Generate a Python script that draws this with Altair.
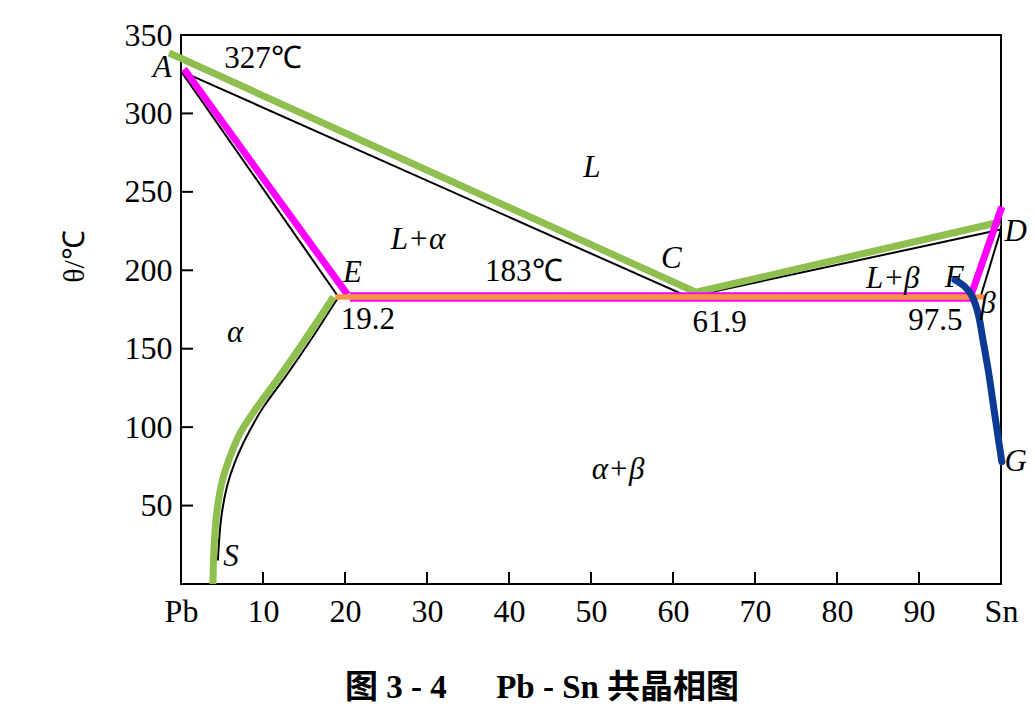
import altair as alt
import pandas as pd

# ---------------- data ----------------
x_tick_values = [0, 10, 20, 30, 40, 50, 60, 70, 80, 90, 100]
y_tick_values = [50, 100, 150, 200, 250, 300, 350]
inner_x_ticks = [10, 20, 30, 40, 50, 60, 70, 80, 90]
inner_y_ticks = [50, 100, 150, 200, 250, 300]

# original black diagram lines
liq_x = [0, 61.9, 100]
liq_y = [327, 183, 226]
sol_x = [0, 19.2]
sol_y = [327, 183]
solv_x = [4.5, 4.9, 5.6, 6.6, 8.0, 9.95, 12.85, 16.0, 19.2]
solv_y = [15, 42, 62, 78, 94, 112, 133, 157, 183]
right_x = [100, 97.5]
right_y = [226, 183]
eut_x = [19.2, 97.5]
eut_y = [183, 183]

# coloured overlay lines
green_liq_x = [-1.44, 62.8, 99.9]
green_liq_y = [338.5, 186, 230.8]
green_solv_x = [3.9, 4.0, 4.35, 5.0, 5.9, 7.2, 9.3, 11.7, 14.5, 18.6]
green_solv_y = [0, 20, 45, 65, 80, 96, 113, 130, 151, 183]
mag_sol_x = [0.37, 20.3]
mag_sol_y = [328.3, 184.5]
mag_right_x = [96.4, 100.1]
mag_right_y = [185, 240.5]
mag_eut_x = [20.6, 96.6]
mag_eut_y = [183, 183]
orange_x = [18.8, 98.0]
orange_y = [183, 183]
blue_x = [94.4, 95.6, 96.4, 97.2, 97.8, 98.5, 99.1, 99.7, 100.1]
blue_y = [193.8, 189.5, 184.2, 172.6, 155.6, 134.5, 113, 91.8, 78]

# annotations
ital_text = ["A", "L", "L+α", "E", "C", "L+β", "F", "β", "D", "G", "α", "α+β", "S"]
ital_x = [-2.3, 50.1, 28.9, 20.9, 59.8, 86.8, 94.3, 98.4, 101.8, 101.8, 6.6, 53.3, 6.1]
ital_y = [329.0, 265.2, 219.3, 198.3, 207.2, 194.4, 195.1, 178.5, 224.4, 77.8, 160, 72.7, 17.5]
norm_text = ["327℃", "183℃", "19.2", "61.9", "97.5"]
norm_x = [10.0, 41.8, 22.8, 65.7, 92.0]
norm_y = [335.0, 198.6, 168.3, 166.7, 167.7]

caption = "图 3 - 4\u2003\u2002Pb - Sn 共晶相图"

# ---------------- chart ----------------
W, H = 820, 549
SERIF = "Liberation Serif"

x_axis = alt.Axis(values=x_tick_values, ticks=False, domain=False, grid=False,
                  labelExpr="datum.value == 0 ? 'Pb' : (datum.value == 100 ? 'Sn' : datum.label)",
                  labelFont=SERIF, labelFontSize=32, labelColor="black",
                  labelPadding=12, labelFlush=False, labelOverlap=False)
y_axis = alt.Axis(values=y_tick_values, ticks=False, domain=False, grid=False,
                  labelFont=SERIF, labelFontSize=32, labelColor="black",
                  labelPadding=9, labelFlush=False, labelOverlap=False,
                  title="θ/℃", titleFont=SERIF, titleFontSize=30, titleFontWeight="normal",
                  titleColor="black", titleX=-107, titleY=221, titleAngle=270,
                  titleAlign="center", titleBaseline="middle")

xs = alt.Scale(domain=[0, 100], nice=False, zero=False)
ys = alt.Scale(domain=[0, 350], nice=False, zero=False)

def X(field="x"):
    return alt.X(f"{field}:Q", scale=xs, axis=x_axis, title=None)

def Y(field="y"):
    return alt.Y(f"{field}:Q", scale=ys, axis=y_axis)

def line(xv, yv, color, width, cap="butt", interp="linear"):
    df = pd.DataFrame({"x": xv, "y": yv, "i": list(range(len(xv)))})
    return alt.Chart(df).mark_line(color=color, strokeWidth=width, strokeCap=cap,
                                   strokeJoin="miter", interpolate=interp, clip=False).encode(
        x=X(), y=Y(), order="i:Q")

CURVE = "catmull-rom"
layers = []
# black base lines
for xv, yv, ip in [(liq_x, liq_y, "linear"), (sol_x, sol_y, "linear"),
                   (solv_x, solv_y, CURVE), (right_x, right_y, "linear"),
                   (eut_x, eut_y, "linear")]:
    layers.append(line(xv, yv, "black", 2, interp=ip))

# inward tick marks
xt = alt.Chart(pd.DataFrame({"x": inner_x_ticks})).mark_rule(color="black", strokeWidth=2).encode(
    x=X(), y=alt.value(H), y2=alt.value(H - 12))
yt = alt.Chart(pd.DataFrame({"y": inner_y_ticks})).mark_rule(color="black", strokeWidth=2).encode(
    y=Y(), x=alt.value(0), x2=alt.value(12))
layers += [xt, yt]

GREEN = "#8fbf4f"
MAG = "#ff00ff"
ORANGE = "#f79646"
BLUE = "#0b3a94"
layers.append(line(green_liq_x, green_liq_y, GREEN, 7))
layers.append(line(green_solv_x, green_solv_y, GREEN, 7, interp=CURVE))
layers.append(line(mag_sol_x, mag_sol_y, MAG, 7))
layers.append(line(mag_right_x, mag_right_y, MAG, 7))
layers.append(line(mag_eut_x, mag_eut_y, MAG, 9.5))
layers.append(line(orange_x, orange_y, ORANGE, 5.5))
layers.append(line(blue_x, blue_y, BLUE, 7, cap="round", interp=CURVE))

ital_df = pd.DataFrame({"x": ital_x, "y": ital_y, "t": ital_text})
norm_df = pd.DataFrame({"x": norm_x, "y": norm_y, "t": norm_text})
layers.append(alt.Chart(ital_df).mark_text(font=SERIF, fontSize=31, fontStyle="italic",
                                           color="black", align="center", baseline="middle").encode(
    x=X(), y=Y(), text="t:N"))
layers.append(alt.Chart(norm_df).mark_text(font=SERIF, fontSize=31, color="black",
                                           align="center", baseline="middle").encode(
    x=X(), y=Y(), text="t:N"))

chart = alt.layer(*layers).properties(
    width=W, height=H,
    autosize=alt.AutoSizeParams(type="none"),
    padding={"left": 173, "top": 27, "right": 26, "bottom": 124},
    background="white",
    title=alt.TitleParams(caption, orient="bottom", anchor="middle", dx=-49, offset=45,
                          font="Liberation Serif, Noto Sans CJK SC", fontSize=33,
                          fontWeight="bold", color="black"),
).configure_view(stroke="black", strokeWidth=2).configure_axis(grid=False)

chart.save("out.html", embed_options={"renderer": "svg", "actions": False})
